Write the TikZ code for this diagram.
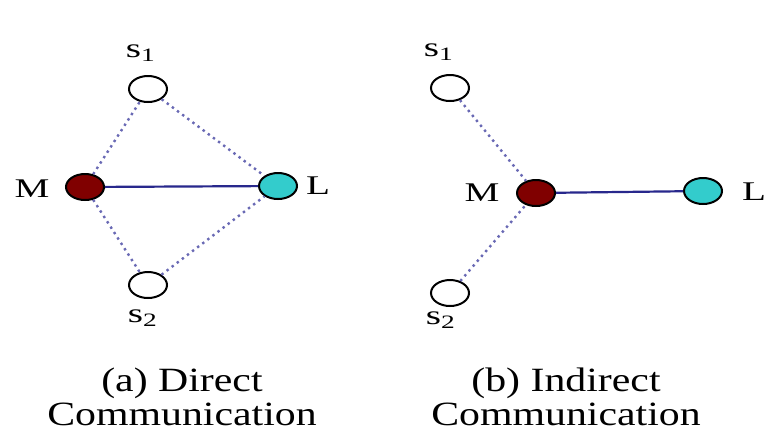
\documentclass[tikz,border=0pt]{standalone}
\usepackage{fontspec}
\setmainfont{Liberation Serif}
\usepackage{graphicx}
\usetikzlibrary{shapes.geometric}

\definecolor{masterred}{RGB}{128,0,0}
\definecolor{leafcyan}{RGB}{51,204,204}
\definecolor{linkblue}{RGB}{40,40,140}
\definecolor{relayblue}{RGB}{105,105,180}

% text in the figure is a bit wider than the font
\newcommand{\wide}[2]{\scalebox{#1}[1]{#2}}

\begin{document}
\begin{tikzpicture}
    [
      x=0.5pt, y=-0.5pt,
      sensor/.style={ellipse,draw,line width=1pt,minimum width=19pt,minimum height=13pt,inner sep=0pt,fill=white},
      master/.style={sensor,fill=masterred},
      leaf/.style={sensor,fill=leafcyan},
      tag/.style={inner sep=0pt,font=\fontsize{13.5}{16}\selectfont},
      caption/.style={align=center,inner sep=0pt,font=\fontsize{17}{17}\selectfont},
      direct/.style={draw=linkblue,line width=1.1pt},
      relay/.style={draw=relayblue,dotted,line width=1.2pt},
    ]
    \useasboundingbox (0,0) rectangle (764,430);

    % (a) direct communication
    \node (sa1) [sensor] at (148,89) {};
    \node (sa2) [sensor] at (148,285) {};
    \node (ma) [master] at (85,187) {};
    \node (la) [leaf] at (278,186) {};

    \path
    (ma) edge [direct] (la)
    (ma) edge [relay] (sa1)
    (ma) edge [relay] (sa2)
    (sa1) edge [relay] (la)
    (sa2) edge [relay] (la)
    ;

    \node (sa1-tag) [tag] at (141,53) {\wide{1.45}{s\textsubscript{1}}};
    \node (sa2-tag) [tag] at (143,318) {\wide{1.45}{s\textsubscript{2}}};
    \node (ma-tag) [tag] at (32,189) {\wide{1.45}{M}};
    \node (la-tag) [tag] at (318,186) {\wide{1.45}{L}};

    % (b) indirect communication
    \node (sb1) [sensor] at (450,88) {};
    \node (sb2) [sensor] at (450,293) {};
    \node (mb) [master] at (536,193) {};
    \node (lb) [leaf] at (703,191) {};

    \path
    (mb) edge [direct] (lb)
    (sb1) edge [relay] (mb)
    (sb2) edge [relay] (mb)
    ;

    \node (sb1-tag) [tag] at (439,52) {\wide{1.45}{s\textsubscript{1}}};
    \node (sb2-tag) [tag] at (441,320) {\wide{1.45}{s\textsubscript{2}}};
    \node (mb-tag) [tag] at (482,193) {\wide{1.45}{M}};
    \node (lb-tag) [tag] at (754,192) {\wide{1.45}{L}};

    \node (cap-a) [caption] at (182,397) {\wide{1.23}{(a) Direct}\\\wide{1.23}{Communication}};
    \node (cap-b) [caption] at (566,397) {\wide{1.23}{(b) Indirect}\\\wide{1.23}{Communication}};

  \end{tikzpicture}
\end{document}
